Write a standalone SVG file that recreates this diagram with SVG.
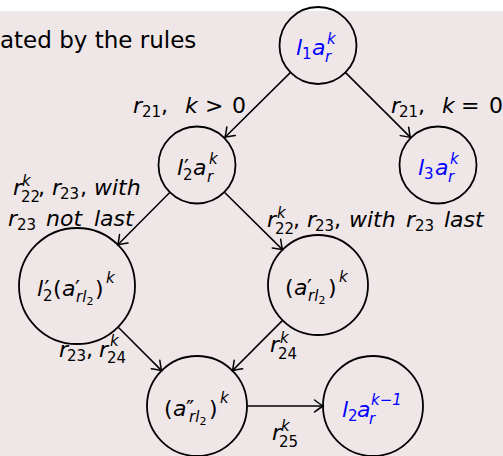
<svg xmlns="http://www.w3.org/2000/svg" width="503" height="456" viewBox="0 0 503 456">
<defs>
<style>
text{font-family:"DejaVu Sans","Liberation Sans",sans-serif;fill:#000}
.m{font-size:22px;font-style:italic}
.u{font-size:22px}
.si{font-size:15px;font-style:italic}
.s{font-size:15px}
.t{font-size:11px}
.blue text,.blue tspan{fill:#0000ff}
.node circle{fill:none;stroke:#000;stroke-width:1.8}
.edges line{stroke:#000;stroke-width:1.5;fill:none}
</style>
<marker id="ah" markerUnits="userSpaceOnUse" markerWidth="16" markerHeight="16" viewBox="-10 -8 11 16" refX="0" refY="0" orient="auto">
<path d="M-8.5,-6 Q-2.5,-1.5 0,0 Q-2.5,1.5 -8.5,6" fill="none" stroke="#000" stroke-width="1.5" stroke-linecap="round"/>
</marker>
</defs>
<rect x="0" y="0" width="503" height="456" fill="#efe6e7"/>
<rect x="0" y="0" width="503" height="11" fill="#ffffff"/>
<text class="u" x="0" y="48" style="font-size:23px">ated by the rules</text>

<g class="edges">
<line x1="290.3" y1="72.6" x2="225" y2="137.3" marker-end="url(#ah)"/>
<line x1="345.6" y1="72.6" x2="410.4" y2="137.4" marker-end="url(#ah)"/>
<line x1="169.5" y1="192.7" x2="117.8" y2="244.8" marker-end="url(#ah)"/>
<line x1="224.7" y1="192.5" x2="282.5" y2="249.6" marker-end="url(#ah)"/>
<line x1="118" y1="327" x2="161.6" y2="370.6" marker-end="url(#ah)"/>
<line x1="282.6" y1="320.4" x2="232.4" y2="370.6" marker-end="url(#ah)"/>
<line x1="247" y1="406" x2="323" y2="406" marker-end="url(#ah)"/>
</g>

<g id="edge-labels">
<text><tspan class="m" x="133" y="113">r</tspan><tspan class="s" x="142" y="117">21</tspan><tspan class="u" x="161" y="113">,</tspan><tspan class="m" x="185" y="113">k</tspan><tspan class="u" x="205" y="113">&gt;</tspan><tspan class="u" x="232" y="113">0</tspan></text>
<text><tspan class="m" x="391" y="113">r</tspan><tspan class="s" x="399" y="117">21</tspan><tspan class="u" x="418" y="113">,</tspan><tspan class="m" x="442" y="113">k</tspan><tspan class="u" x="461" y="113">=</tspan><tspan class="u" x="489" y="113">0</tspan></text>
<text><tspan class="m" x="13" y="195">r</tspan><tspan class="si" x="22" y="186">k</tspan><tspan class="s" x="21" y="202">22</tspan><tspan class="u" x="38" y="195">,</tspan><tspan class="m" x="52" y="195">r</tspan><tspan class="s" x="60" y="199">23</tspan><tspan class="u" x="80" y="195">,</tspan><tspan class="m" x="94" y="195">with</tspan></text>
<text><tspan class="m" x="8" y="226">r</tspan><tspan class="s" x="17" y="230">23</tspan><tspan class="m" x="46" y="226">not</tspan><tspan class="m" x="94" y="226">last</tspan></text>
<text><tspan class="m" x="267" y="227">r</tspan><tspan class="si" x="277" y="218">k</tspan><tspan class="s" x="275" y="234">22</tspan><tspan class="u" x="293" y="227">,</tspan><tspan class="m" x="307" y="227">r</tspan><tspan class="s" x="315" y="231">23</tspan><tspan class="u" x="334" y="227">,</tspan><tspan class="m" x="349" y="227">with</tspan><tspan class="m" x="406" y="227">r</tspan><tspan class="s" x="415" y="231">23</tspan><tspan class="m" x="444" y="227">last</tspan></text>
<text><tspan class="m" x="59" y="357">r</tspan><tspan class="s" x="67" y="361">23</tspan><tspan class="u" x="86" y="357">,</tspan><tspan class="m" x="99" y="357">r</tspan><tspan class="si" x="110" y="346">k</tspan><tspan class="s" x="107" y="363">24</tspan></text>
<text><tspan class="m" x="270" y="352">r</tspan><tspan class="si" x="280" y="343">k</tspan><tspan class="s" x="278" y="359">24</tspan></text>
<text><tspan class="m" x="272" y="440">r</tspan><tspan class="si" x="281" y="431">k</tspan><tspan class="s" x="279" y="447">25</tspan></text>
</g>

<g id="n1" class="node blue">
<circle cx="318" cy="45.5" r="38.5"/>
<text><tspan class="m" x="296" y="55">l</tspan><tspan class="s" x="302" y="59">1</tspan><tspan class="m" x="312" y="55">a</tspan><tspan class="si" x="327" y="44">k</tspan><tspan class="si" x="325" y="62">r</tspan></text>
</g>
<g id="n2" class="node">
<circle cx="197" cy="165" r="38.5"/>
<text><tspan class="m" x="177" y="175">l</tspan><tspan class="u" x="184" y="175">′</tspan><tspan class="s" x="183" y="180">2</tspan><tspan class="m" x="193" y="175">a</tspan><tspan class="si" x="209" y="164">k</tspan><tspan class="si" x="207" y="182">r</tspan></text>
</g>
<g id="n3" class="node blue">
<circle cx="438" cy="165" r="38.5"/>
<text><tspan class="m" x="418" y="175">l</tspan><tspan class="s" x="424" y="179">3</tspan><tspan class="m" x="435" y="175">a</tspan><tspan class="si" x="450" y="164">k</tspan><tspan class="si" x="448" y="182">r</tspan></text>
</g>
<g id="n4" class="node">
<circle cx="77" cy="286" r="58"/>
<text><tspan class="m" x="37" y="296">l</tspan><tspan class="u" x="44.5" y="296">′</tspan><tspan class="s" x="43" y="301">2</tspan><tspan class="u" x="53" y="296">(</tspan><tspan class="m" x="62" y="296">a</tspan><tspan class="u" x="75" y="296">′</tspan><tspan class="si" x="76" y="302">rl</tspan><tspan class="t" x="86.5" y="305">2</tspan><tspan class="u" x="95" y="296">)</tspan><tspan class="si" x="106" y="283">k</tspan></text>
</g>
<g id="n5" class="node">
<circle cx="318" cy="285" r="50"/>
<text><tspan class="u" x="285" y="295">(</tspan><tspan class="m" x="294" y="295">a</tspan><tspan class="u" x="307" y="295">′</tspan><tspan class="si" x="308" y="301">rl</tspan><tspan class="t" x="318.5" y="304">2</tspan><tspan class="u" x="328" y="295">)</tspan><tspan class="si" x="339" y="282">k</tspan></text>
</g>
<g id="n6" class="node">
<circle cx="197" cy="406" r="50"/>
<text><tspan class="u" x="164" y="416">(</tspan><tspan class="m" x="173" y="416">a</tspan><tspan class="u" x="186" y="416">″</tspan><tspan class="si" x="189" y="422">rl</tspan><tspan class="t" x="199.5" y="425">2</tspan><tspan class="u" x="209" y="416">)</tspan><tspan class="si" x="220" y="403">k</tspan></text>
</g>
<g id="n7" class="node blue">
<circle cx="373" cy="406" r="50"/>
<text><tspan class="m" x="342" y="417">l</tspan><tspan class="s" x="348" y="421">2</tspan><tspan class="m" x="357" y="417">a</tspan><tspan class="si" x="371" y="405">k−1</tspan><tspan class="si" x="369" y="424">r</tspan></text>
</g>
</svg>
